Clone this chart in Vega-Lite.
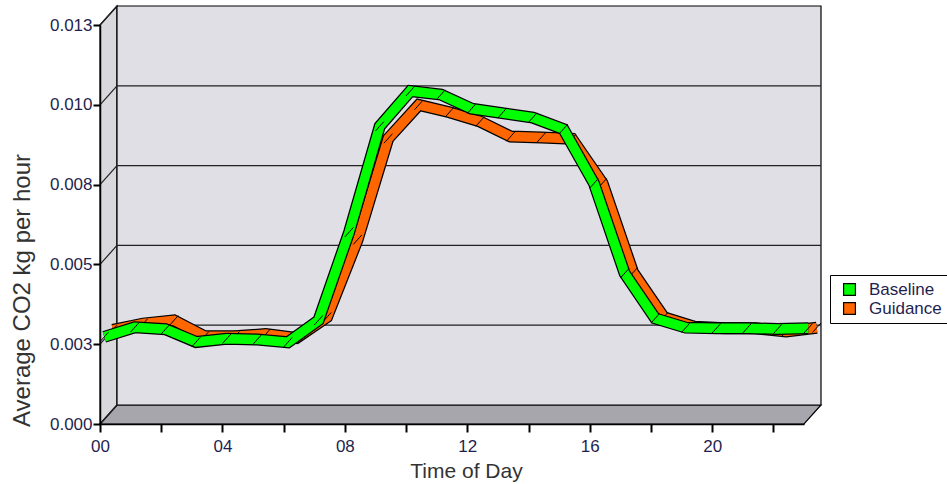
{
  "$schema": "https://vega.github.io/schema/vega-lite/v6.json",
  "width": 704,
  "height": 399,
  "autosize": {"type": "none"},
  "padding": {"left": 100, "top": 25, "right": 143, "bottom": 60},
  "background": "white",
  "config": {"view": {"stroke": null}, "font": "Liberation Sans"},
  "datasets": {
    "co2": [
      {"hour": 0, "series": "Baseline", "value": 0.00258},
      {"hour": 1, "series": "Baseline", "value": 0.00288},
      {"hour": 2, "series": "Baseline", "value": 0.00282},
      {"hour": 3, "series": "Baseline", "value": 0.00242},
      {"hour": 4, "series": "Baseline", "value": 0.00252},
      {"hour": 5, "series": "Baseline", "value": 0.0025},
      {"hour": 6, "series": "Baseline", "value": 0.00241},
      {"hour": 7, "series": "Baseline", "value": 0.0031},
      {"hour": 8, "series": "Baseline", "value": 0.00586},
      {"hour": 9, "series": "Baseline", "value": 0.00918},
      {"hour": 10, "series": "Baseline", "value": 0.01028},
      {"hour": 11, "series": "Baseline", "value": 0.01017},
      {"hour": 12, "series": "Baseline", "value": 0.00973},
      {"hour": 13, "series": "Baseline", "value": 0.00959},
      {"hour": 14, "series": "Baseline", "value": 0.00945},
      {"hour": 15, "series": "Baseline", "value": 0.00909},
      {"hour": 16, "series": "Baseline", "value": 0.00739},
      {"hour": 17, "series": "Baseline", "value": 0.00457},
      {"hour": 18, "series": "Baseline", "value": 0.00316},
      {"hour": 19, "series": "Baseline", "value": 0.00287},
      {"hour": 20, "series": "Baseline", "value": 0.00285},
      {"hour": 21, "series": "Baseline", "value": 0.00285},
      {"hour": 22, "series": "Baseline", "value": 0.00283},
      {"hour": 23, "series": "Baseline", "value": 0.00285},
      {"hour": 0, "series": "Guidance", "value": 0.0025},
      {"hour": 1, "series": "Guidance", "value": 0.0027},
      {"hour": 2, "series": "Guidance", "value": 0.0028},
      {"hour": 3, "series": "Guidance", "value": 0.0023},
      {"hour": 4, "series": "Guidance", "value": 0.0023},
      {"hour": 5, "series": "Guidance", "value": 0.00237},
      {"hour": 6, "series": "Guidance", "value": 0.00225},
      {"hour": 7, "series": "Guidance", "value": 0.0029},
      {"hour": 8, "series": "Guidance", "value": 0.00533},
      {"hour": 9, "series": "Guidance", "value": 0.0085},
      {"hour": 10, "series": "Guidance", "value": 0.00955},
      {"hour": 11, "series": "Guidance", "value": 0.00932},
      {"hour": 12, "series": "Guidance", "value": 0.00903},
      {"hour": 13, "series": "Guidance", "value": 0.00856},
      {"hour": 14, "series": "Guidance", "value": 0.00853},
      {"hour": 15, "series": "Guidance", "value": 0.00849},
      {"hour": 16, "series": "Guidance", "value": 0.0071},
      {"hour": 17, "series": "Guidance", "value": 0.0043},
      {"hour": 18, "series": "Guidance", "value": 0.0029},
      {"hour": 19, "series": "Guidance", "value": 0.0026},
      {"hour": 20, "series": "Guidance", "value": 0.00255},
      {"hour": 21, "series": "Guidance", "value": 0.00255},
      {"hour": 22, "series": "Guidance", "value": 0.00245},
      {"hour": 23, "series": "Guidance", "value": 0.00257}
    ],
    "grid": [{"v": 0.0025}, {"v": 0.005}, {"v": 0.0075}, {"v": 0.01}],
    "ticks": [{"v": 0}, {"v": 0.0025}, {"v": 0.005}, {"v": 0.0075}, {"v": 0.01}, {"v": 0.0125}]
  },
  "layer": [
    {
      "data": {"values": [{}]},
      "mark": {"type": "point", "shape": "M0,0 L704,0 L721,-19 L17,-19 Z", "size": 4, "filled": true, "fill": "#a6a6ac", "stroke": "black", "strokeWidth": 1.2, "opacity": 1},
      "encoding": {
        "x": {"datum": 0, "type": "quantitative", "scale": {"domain": [0, 23], "nice": false, "zero": false}},
        "y": {"datum": 0, "type": "quantitative", "scale": {"domain": [0, 0.0125], "nice": false, "zero": false}}
      }
    },
    {
      "data": {"values": [{}]},
      "mark": {"type": "point", "shape": "M0,0 L0,-399 L17,-418 L17,-19 Z", "size": 4, "filled": true, "fill": "#d8d8dd", "stroke": "black", "strokeWidth": 1.2, "opacity": 1},
      "encoding": {
        "x": {"datum": 0, "type": "quantitative"},
        "y": {"datum": 0, "type": "quantitative"}
      }
    },
    {
      "data": {"values": [{}]},
      "mark": {"type": "rect", "fill": "#dfdfe5", "stroke": "black", "strokeWidth": 1.2, "xOffset": 17, "x2Offset": 17, "yOffset": -19, "y2Offset": -19},
      "encoding": {
        "x": {"datum": 0, "type": "quantitative"},
        "x2": {"datum": 23},
        "y": {"datum": 0, "type": "quantitative"},
        "y2": {"datum": 0.0125}
      }
    },
    {
      "data": {"name": "grid"},
      "mark": {"type": "rule", "color": "#222", "strokeWidth": 1.2, "xOffset": 17, "x2Offset": 17, "yOffset": -19},
      "encoding": {
        "x": {"datum": 0, "type": "quantitative"},
        "x2": {"datum": 23},
        "y": {"field": "v", "type": "quantitative"}
      }
    },
    {
      "data": {"name": "ticks"},
      "mark": {"type": "rule", "color": "#222", "strokeWidth": 1.2, "x2Offset": 17, "y2Offset": -19},
      "encoding": {
        "x": {"datum": 0, "type": "quantitative"},
        "x2": {"datum": 0},
        "y": {"field": "v", "type": "quantitative"},
        "y2": {"field": "v"}
      }
    },
    {
      "data": {"name": "co2"},
      "transform": [{"filter": "datum.series === 'Guidance'"}],
      "mark": {"type": "line", "stroke": "black", "strokeWidth": 12, "strokeJoin": "miter", "strokeCap": "butt", "xOffset": 12.75, "yOffset": -14.25},
      "encoding": {
        "x": {"field": "hour", "type": "quantitative"},
        "y": {"field": "value", "type": "quantitative"}
      }
    },
    {
      "data": {"name": "co2"},
      "transform": [{"filter": "datum.series === 'Guidance'"}],
      "mark": {"type": "line", "stroke": "#ff6600", "strokeWidth": 9.5, "strokeJoin": "miter", "strokeCap": "butt", "xOffset": 12.75, "yOffset": -14.25, "opacity": 1},
      "encoding": {
        "x": {"field": "hour", "type": "quantitative"},
        "y": {"field": "value", "type": "quantitative"}
      }
    },
    {
      "data": {"name": "co2"},
      "transform": [{"filter": "datum.series === 'Guidance'"}],
      "mark": {"type": "rule", "color": "black", "strokeWidth": 1, "xOffset": 8.5, "yOffset": -9.5, "x2Offset": 17, "y2Offset": -19},
      "encoding": {
        "x": {"field": "hour", "type": "quantitative"},
        "x2": {"field": "hour"},
        "y": {"field": "value", "type": "quantitative"},
        "y2": {"field": "value"}
      }
    },
    {
      "data": {"name": "co2"},
      "transform": [{"filter": "datum.series === 'Baseline'"}],
      "mark": {"type": "line", "stroke": "black", "strokeWidth": 12, "strokeJoin": "miter", "strokeCap": "butt", "xOffset": 4.25, "yOffset": -4.75},
      "encoding": {
        "x": {"field": "hour", "type": "quantitative"},
        "y": {"field": "value", "type": "quantitative"}
      }
    },
    {
      "data": {"name": "co2"},
      "transform": [{"filter": "datum.series === 'Baseline'"}],
      "mark": {"type": "line", "stroke": "#00ff00", "strokeWidth": 9.5, "strokeJoin": "miter", "strokeCap": "butt", "xOffset": 4.25, "yOffset": -4.75, "opacity": 1},
      "encoding": {
        "x": {"field": "hour", "type": "quantitative"},
        "y": {"field": "value", "type": "quantitative"}
      }
    },
    {
      "data": {"name": "co2"},
      "transform": [{"filter": "datum.hour < 0"}],
      "mark": {"type": "point", "shape": "square", "filled": true, "stroke": "black", "strokeWidth": 1.2, "opacity": 1},
      "encoding": {
        "x": {"field": "hour", "type": "quantitative"},
        "y": {"field": "value", "type": "quantitative"},
        "color": {
          "field": "series", "type": "nominal",
          "scale": {"domain": ["Baseline", "Guidance"], "range": ["#00ff00", "#ff6600"]},
          "legend": {
            "title": null, "orient": "none", "legendX": 730, "legendY": 250,
            "symbolType": "square", "symbolSize": 140, "symbolStrokeWidth": 1.2,
            "symbolStrokeColor": "black", "symbolOpacity": 1,
            "symbolOffset": 5,
            "labelFontSize": 17, "labelColor": "#1f1f4f", "labelFont": "Liberation Sans",
            "labelOffset": 11, "rowPadding": 1, "padding": 6,
            "strokeColor": "black", "fillColor": "white", "labelLimit": 0
          }
        }
      }
    },
    {
      "data": {"name": "co2"},
      "transform": [{"filter": "datum.series === 'Baseline'"}],
      "mark": {"type": "rule", "color": "black", "strokeWidth": 1, "x2Offset": 8.5, "y2Offset": -9.5},
      "encoding": {
        "x": {
          "field": "hour", "type": "quantitative",
          "axis": {
            "values": [0,1,2,3,4,5,6,7,8,9,10,11,12,13,14,15,16,17,18,19,20,21,22,23],
            "labelExpr": "datum.value % 4 == 0 ? (datum.value < 10 ? '0' + datum.value : '' + datum.value) : ''",
            "title": "Time of Day", "titleFontSize": 21, "titleFontWeight": "normal", "titleColor": "#333333", "titleFont": "Liberation Sans",
            "titleX": 366, "titleY": 47, "titleBaseline": "middle", "titleAnchor": "middle",
            "labelFontSize": 17, "labelColor": "#1f1f4f", "labelFont": "Liberation Sans",
            "tickSize": 8, "tickWidth": 2, "tickColor": "black", "domainColor": "black", "domainWidth": 1.5,
            "labelPadding": 6, "labelFlush": false, "labelOverlap": false, "grid": false, "zindex": 1
          }
        },
        "x2": {"field": "hour"},
        "y": {
          "field": "value", "type": "quantitative",
          "axis": {
            "values": [0, 0.0025, 0.005, 0.0075, 0.01, 0.0125],
            "labelExpr": "format(datum.value + 0.0000001, '.3f')",
            "title": "Average CO2 kg per hour", "titleFontSize": 24, "titleFontWeight": "normal", "titleColor": "#333333", "titleFont": "Liberation Sans",
            "titleX": -78, "titleY": 265, "titleAngle": -90, "titleBaseline": "middle", "titleAnchor": "middle",
            "labelFontSize": 17, "labelColor": "#1f1f4f", "labelFont": "Liberation Sans",
            "tickSize": 7, "tickWidth": 2, "tickColor": "black", "domainColor": "black", "domainWidth": 1.5,
            "labelPadding": 1, "labelOverlap": false, "grid": false, "zindex": 1
          }
        },
        "y2": {"field": "value"}
      }
    }
  ]
}
